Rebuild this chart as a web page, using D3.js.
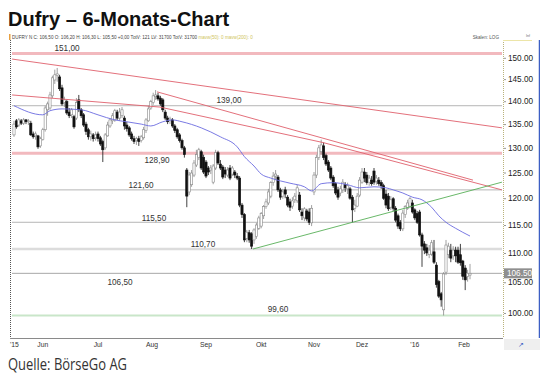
<!DOCTYPE html>
<html><head><meta charset="utf-8">
<script src="https://cdn.jsdelivr.net/npm/d3@7/dist/d3.min.js"></script>
<style>
html,body{margin:0;padding:0;background:#fff;}
svg{display:block;}
</style></head>
<body><svg id="c" width="540" height="377"></svg>
<script>
// ---------------- data ----------------
const candles = [ // [open, high, low, close] per trading day
[132.7,135.7,132.3,135.0],[135.7,136.1,134.0,134.4],[134.8,136.3,134.4,135.9],[135.7,136.1,134.8,135.2],[135.2,136.3,134.8,135.9],
[135.9,136.1,135.0,135.5],[135.5,136.1,134.8,135.7],[135.2,135.7,132.5,132.7],[132.9,133.4,131.9,132.3],[132.5,133.4,131.7,132.9],
[132.5,132.7,129.8,130.2],[130.4,132.3,130.0,131.9],[131.7,134.2,131.5,133.8],[133.8,139.0,133.4,138.5],[138.1,139.9,136.8,139.4],
[138.5,142.1,138.1,141.4],[141.2,145.8,140.7,145.3],[144.8,147.2,143.9,146.0],[145.8,147.6,144.4,146.2],[145.5,146.0,142.3,142.8],
[143.0,143.7,139.0,139.4],[139.7,141.0,138.7,140.3],[139.9,140.3,137.0,137.4],[137.6,138.5,136.3,136.8],[137.0,138.5,136.3,138.1],
[136.6,137.0,134.0,134.4],[136.3,140.7,135.9,139.7],[140.3,141.4,137.6,138.1],[138.1,138.5,136.3,136.8],[137.0,137.4,134.4,134.8],
[135.0,135.5,132.7,133.4],[133.8,134.2,131.7,132.3],[132.3,133.6,131.5,132.9],[132.7,133.1,131.3,131.9],[132.1,133.4,131.5,132.7],
[132.9,133.4,131.3,131.9],[132.1,132.5,130.4,130.8],[131.3,131.7,127.1,129.6],[130.0,133.1,129.6,132.7],[132.5,135.5,132.3,134.8],
[134.6,136.3,134.2,135.9],[135.7,137.4,135.0,136.8],[135.9,138.3,135.5,137.9],[137.6,138.1,135.9,136.3],[136.3,138.5,135.7,137.6],
[136.8,138.7,136.3,138.1],[136.3,136.8,133.8,134.6],[134.8,135.5,133.4,134.0],[134.2,134.6,132.3,132.7],[132.9,133.4,131.5,131.9],
[131.9,132.5,130.8,131.3],[131.5,132.3,130.6,131.9],[131.9,132.5,130.4,131.3],[131.5,132.7,131.1,132.3],[132.1,134.4,131.7,133.8],
[133.6,136.3,133.1,135.9],[135.7,139.0,135.5,138.3],[138.5,140.3,138.1,139.9],[139.7,141.9,139.2,141.2],[141.0,142.5,140.3,141.4],
[141.2,141.9,140.1,140.5],[140.7,141.2,139.0,139.4],[140.3,140.7,137.6,138.1],[137.6,138.1,135.9,136.3],[136.3,136.8,135.0,135.5],
[135.7,136.6,135.0,136.1],[135.9,136.3,134.2,134.6],[134.6,135.0,133.1,133.6],[133.8,134.2,131.9,132.3],[132.7,133.1,131.1,131.5],
[131.5,131.9,129.6,130.0],[130.0,130.4,128.0,128.6],[125.5,125.9,118.3,120.4],[121.2,125.1,120.6,124.5],[122.6,125.5,122.2,124.9],
[124.5,127.5,124.1,126.9],[126.5,129.6,126.1,128.6],[128.0,130.0,127.5,129.6],[129.2,129.6,125.5,125.9],[128.0,128.6,124.7,125.1],
[127.1,127.5,123.9,124.3],[125.9,126.3,124.5,125.1],[125.5,126.5,124.7,125.9],[123.1,126.7,122.7,126.3],[125.9,129.6,125.5,129.0],
[129.0,129.4,126.5,126.9],[126.7,127.5,125.5,125.9],[126.1,126.5,123.7,124.1],[125.5,126.1,123.9,124.7],[124.5,126.1,124.1,125.5],
[125.9,126.5,123.5,123.9],[124.7,126.3,124.3,125.9],[125.1,125.5,123.9,124.5],[124.3,124.9,123.5,123.9],[123.9,124.3,118.3,118.7],
[118.7,119.1,116.3,116.9],[116.9,117.2,111.9,112.3],[112.6,114.1,111.9,113.7],[113.6,114.1,111.8,112.3],[113.4,113.7,110.7,111.2],
[112.3,114.4,111.6,114.1],[112.9,115.4,112.5,115.0],[114.4,116.7,114.1,116.3],[114.8,117.4,114.4,117.1],[116.7,118.7,116.1,118.4],
[118.4,119.9,118.0,119.3],[119.1,121.8,118.7,121.2],[120.4,123.3,120.0,123.0],[123.0,125.1,122.4,124.3],[124.3,125.5,123.5,124.7],
[124.1,124.5,121.2,121.6],[121.6,122.0,119.7,120.2],[120.4,121.8,119.9,121.2],[121.6,122.2,120.0,120.8],[120.2,120.6,118.3,118.7],
[119.3,119.9,117.6,118.3],[118.5,120.2,118.0,119.5],[119.7,121.0,119.1,120.4],[119.5,122.6,119.1,122.0],[120.6,121.2,117.4,117.8],
[117.4,118.1,115.9,116.7],[116.3,118.3,115.7,118.0],[117.6,118.0,115.7,116.1],[117.4,118.1,115.0,115.5],[115.4,118.7,114.8,118.1],
[121.2,125.1,120.6,124.5],[124.5,128.6,123.9,128.0],[128.0,130.6,127.5,130.0],[129.2,131.7,128.6,130.6],[130.4,131.1,127.5,128.0],
[128.4,128.8,126.3,126.7],[127.1,127.5,125.1,125.5],[125.9,126.3,123.5,123.9],[124.1,124.5,122.0,122.4],[122.8,123.1,120.6,121.0],
[121.6,122.2,119.7,120.2],[121.0,122.4,120.4,121.8],[121.6,123.7,121.0,123.1],[122.6,123.1,121.2,122.0],[121.8,123.0,120.8,122.4],
[121.8,122.2,119.7,120.0],[120.2,120.6,115.5,117.8],[118.1,119.7,117.4,118.7],[118.5,121.0,118.3,120.4],[120.6,124.1,120.2,123.5],
[123.1,125.9,122.8,125.1],[125.1,125.9,123.1,123.9],[124.5,125.1,122.6,123.0],[123.1,124.5,122.4,123.9],[123.5,124.3,122.4,122.8],
[125.3,125.9,122.6,123.1],[123.3,124.5,122.6,123.9],[123.5,124.1,122.4,122.8],[123.0,123.5,121.8,122.4],[122.4,122.8,119.7,120.0],
[120.8,121.6,118.1,118.7],[120.4,121.0,117.6,118.0],[118.3,120.4,117.8,119.7],[119.9,120.2,117.6,118.1],[118.1,118.5,115.5,115.9],
[116.7,117.1,114.3,114.8],[115.5,115.9,113.9,114.3],[114.3,117.8,113.9,117.2],[116.9,118.7,116.3,118.4],[118.1,119.7,117.8,119.1],
[118.5,120.2,118.1,119.9],[119.1,119.7,117.1,117.4],[117.8,118.1,115.9,116.3],[117.1,117.6,115.2,115.5],[117.4,117.8,112.9,113.2],
[113.2,113.6,107.6,111.2],[111.6,112.1,109.8,110.5],[110.9,111.6,109.5,110.0],[109.7,111.4,109.1,110.5],[109.8,112.3,109.5,111.8],
[110.2,112.3,108.1,108.4],[107.9,108.4,104.1,104.6],[105.1,105.4,102.4,102.7],[103.1,103.4,101.0,102.1],[100.5,106.7,99.6,106.4],
[106.7,112.3,106.2,111.4],[109.7,111.8,109.1,111.2],[110.5,111.6,108.4,109.1],[109.5,111.2,108.8,110.5],[110.5,111.1,108.4,109.5],
[110.5,111.1,108.1,108.4],[109.7,111.6,107.8,108.3],[108.6,108.8,105.4,106.0],[107.4,107.9,103.7,105.4],[106.0,107.1,105.1,106.5],
[106.2,108.1,105.5,106.5]
];
// moving average (blue), sampled [dayIndex, price]
const movingAverage = [[0,139.0],[12,137.0],[15,137.9],[20,138.3],[28,138.1],[35,137.0],[42,135.9],[47,135.5],[53,135.0],[57,134.6],
[62,135.5],[66,135.9],[70,135.5],[78,134.2],[86,132.3],[93,130.2],[96,128.2],[100,126.3],[103,124.7],[107,123.9],[115,122.9],
[121,122.2],[124,121.4],[128,122.8],[133,123.0],[139,122.6],[144,122.0],[150,122.2],[155,122.0],[158,121.6],[162,121.0],[166,120.2],
[170,119.7],[174,118.3],[177,116.7],[180,115.5],[184,114.4],[190,113.0]];
// trend lines [dayIndex, price]
const resistanceLong = [[-0.8,149.7],[203.3,134.2]];
const resistanceMid = [[-0.8,141.4],[60.8,138.7],[128.75,131.1],[203.3,121.6]];
const resistanceAug = [[59.6,142.1],[191.25,123.5]];
const supportLine = [[99.6,110.7],[203.3,123.1]];
// horizontal levels
const levels = [151.0, 139.0, 128.9, 121.6, 115.5, 110.7, 106.5, 99.6];
const levelLabels = ["151,00","139,00","128,90","121,60","115,50","110,70","106,50","99,60"];
// axes
const yTicks = [100,105,110,115,120,125,130,135,140,145,150];
const monthLabels = ["'15","Jun","Jul","Aug","Sep","Okt","Nov","Dez","'16","Feb"];
const monthIndex = [-1.7,12,35,57.5,80,103,125,145,167,187.5];
const lastPrice = 106.5;

// ---------------- layout ----------------
const svg = d3.select("#c");
const L = 10, R = 503, T = 40, B = 338;
const x = d3.scaleLinear().domain([0,190]).range([14,470]);
const y = d3.scaleLog().domain([96.1,154.3]).range([B,T]);

// title
svg.append("text").attr("x",8).attr("y",26).attr("font-family","Liberation Sans, Arial, sans-serif")
  .attr("font-weight","bold").attr("font-size",20).attr("fill","#111").text("Dufry – 6-Monats-Chart");
// info line
const info = svg.append("text").attr("x",12).attr("y",38.5).attr("font-family","Liberation Sans, Arial, sans-serif")
  .attr("font-size",4.6).attr("fill","#444");
info.append("tspan").text("DUFRY N C: 106,50 O: 106,20 H: 106,30 L: 105,50 +0,00 TotV: 121 LV: 31700 TotV: 31700 ");
info.append("tspan").attr("fill","#cfc45a").text("mavw(50): 0 mavw(200): 0");
svg.append("rect").attr("x",9).attr("y",34).attr("width",1.5).attr("height",6).attr("fill","#e8a040");
svg.append("text").attr("x",499).attr("y",38.5).attr("text-anchor","end").attr("font-family","Liberation Sans, Arial, sans-serif")
  .attr("font-size",4.6).attr("fill","#555").text("Skalen: LOG");
svg.append("text").attr("x",530).attr("y",37).attr("text-anchor","end").attr("font-family","Liberation Sans, Arial, sans-serif")
  .attr("font-size",3.5).attr("fill","#666").text("Inf");

// axes frame
svg.append("line").attr("x1",L+0.5).attr("x2",L+0.5).attr("y1",T).attr("y2",B)
  .attr("stroke","#555").attr("stroke-dasharray","1,1");
svg.append("line").attr("x1",R+0.5).attr("x2",R+0.5).attr("y1",T).attr("y2",B)
  .attr("stroke","#b9b27a").attr("stroke-dasharray","1,1");
svg.append("line").attr("x1",R).attr("x2",532).attr("y1",T+0.5).attr("y2",T+0.5).attr("stroke","#ece5a8");
svg.append("line").attr("x1",539.5).attr("x2",539.5).attr("y1",T).attr("y2",B).attr("stroke","#3d5fc4").attr("stroke-width",1.5);
svg.append("line").attr("x1",L).attr("x2",R).attr("y1",B+0.5).attr("y2",B+0.5).attr("stroke","#8a8a8a");
svg.append("rect").attr("x",R+1).attr("y",B+1).attr("width",37).attr("height",11).attr("fill","#efefef");
svg.append("text").attr("x",521).attr("y",347).attr("text-anchor","middle").attr("font-size",7).attr("fill","#3d5fc4").text("↗");

// levels
const levelStyle = [
 {c:"#f2b9be",w:3,dx:67,dy:-2.5},{c:"#b5b5b5",w:1,dx:229,dy:-3},{c:"#f2b9be",w:3,dx:157,dy:10},
 {c:"#b5b5b5",w:1,dx:141,dy:-1.5},{c:"#b5b5b5",w:1,dx:154,dy:-1.5},{c:"#dcdcdc",w:2.5,dx:203,dy:-1.5},
 {c:"#a8a8a8",w:1,dx:120,dy:12},{c:"#c9e6c9",w:2,dx:278,dy:-3}];
levels.forEach((v,i)=>{
  const s = levelStyle[i];
  svg.append("line").attr("x1",12).attr("x2",502).attr("y1",y(v)).attr("y2",y(v))
    .attr("stroke",s.c).attr("stroke-width",s.w);
  svg.append("text").attr("x",s.dx).attr("y",y(v)+s.dy).attr("text-anchor","middle")
    .attr("font-family","Liberation Sans, Arial, sans-serif").attr("font-size",8.2).attr("fill","#333").text(levelLabels[i]);
});

// candles
const g = svg.append("g");
candles.forEach((d,i)=>{
  const [o,h,l,c] = d; const up = c >= o; const cx = x(i);
  g.append("line").attr("x1",cx).attr("x2",cx).attr("y1",y(h)).attr("y2",y(l))
    .attr("stroke", up ? "#888" : "#111").attr("stroke-width",0.8);
  const y0 = y(Math.max(o,c)), y1 = y(Math.min(o,c));
  g.append("rect").attr("x",cx-1.1).attr("width",2.2).attr("y",y0).attr("height",Math.max(1,y1-y0))
    .attr("fill", up ? "#fff" : "#111").attr("stroke", up ? "#888" : "#111").attr("stroke-width",0.6);
});

// lines
const line = d3.line().x(d=>x(d[0])).y(d=>y(d[1]));
svg.append("path").attr("d",line.curve(d3.curveMonotoneX)(movingAverage)).attr("fill","none")
  .attr("stroke","#6b6be0").attr("stroke-width",0.9);
const lin = d3.line().x(d=>x(d[0])).y(d=>y(d[1]));
[resistanceLong,resistanceMid,resistanceAug].forEach(t=>{
  svg.append("path").attr("d",lin(t)).attr("fill","none").attr("stroke","#e0606c").attr("stroke-width",0.9);
});
svg.append("path").attr("d",lin(supportLine)).attr("fill","none").attr("stroke","#58b058").attr("stroke-width",0.9);

// right axis
const ax = svg.append("g").attr("transform",`translate(${R+1},0)`)
  .call(d3.axisRight(y).tickValues(yTicks).tickFormat(d3.format(".2f")).tickSize(2));
ax.select(".domain").remove();
ax.selectAll("line").attr("stroke","#999");
ax.selectAll("text").attr("font-family","Liberation Sans, Arial, sans-serif").attr("font-size",8.2).attr("fill","#222").attr("x",4);
// last price box
svg.append("rect").attr("x",R+1).attr("y",y(lastPrice)-5).attr("width",28).attr("height",10).attr("fill","#8f8f8f");
svg.append("text").attr("x",R+4).attr("y",y(lastPrice)+3).attr("font-family","Liberation Sans, Arial, sans-serif")
  .attr("font-size",8.2).attr("fill","#fff").text(d3.format(".2f")(lastPrice));

// x labels
monthLabels.forEach((m,i)=>{
  svg.append("text").attr("x", i===0 ? 10 : x(monthIndex[i])).attr("y",347)
    .attr("text-anchor", i===0 ? "start" : "middle").attr("font-family","Liberation Sans, Arial, sans-serif")
    .attr("font-size",6.8).attr("fill","#333").text(m);
});

// source
svg.append("text").attr("x",8).attr("y",370).attr("font-family","Open Sans, Noto Sans, sans-serif")
  .attr("font-size",16).attr("fill","#333").attr("textLength",119).attr("lengthAdjust","spacingAndGlyphs").text("Quelle: BörseGo AG");
</script></body></html>
